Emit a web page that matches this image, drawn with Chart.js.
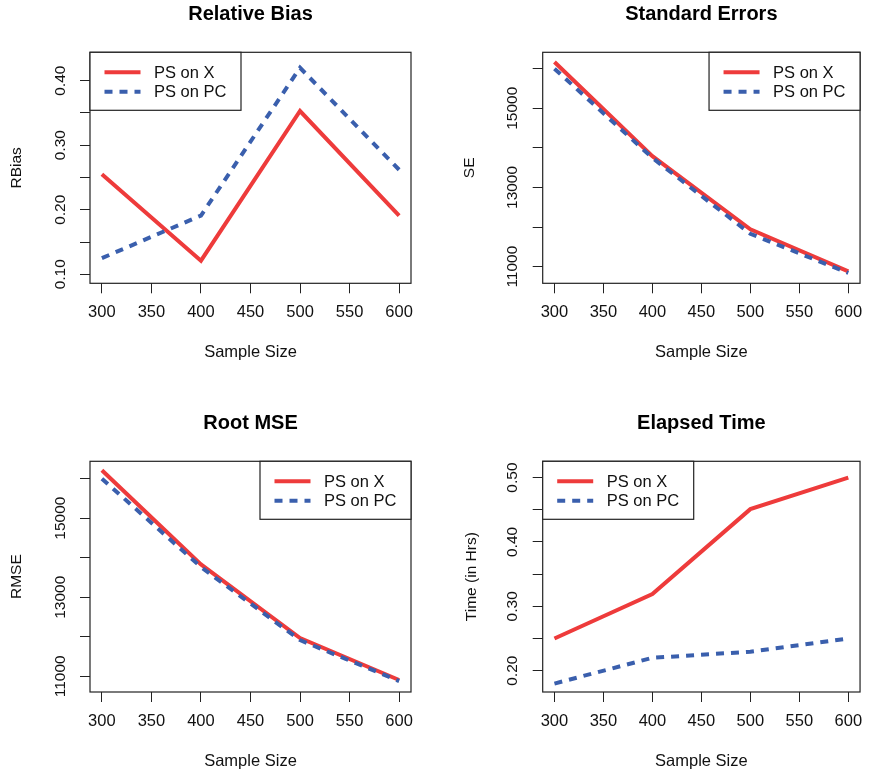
<!DOCTYPE html>
<html>
<head>
<meta charset="utf-8">
<script src="https://cdn.jsdelivr.net/npm/chart.js@4.4.0/dist/chart.umd.min.js"></script>
<style>
  html, body { margin: 0; padding: 0; background: #fff; }
  #wrap { position: relative; width: 872px; height: 773px; overflow: hidden; }
  .panel { position: absolute; }
</style>
</head>
<body>
<div id="wrap">
  <canvas id="c1" class="panel" width="436" height="386" style="left:0;top:0"></canvas>
  <canvas id="c2" class="panel" width="436" height="386" style="left:436px;top:0"></canvas>
  <canvas id="c3" class="panel" width="436" height="387" style="left:0;top:386px"></canvas>
  <canvas id="c4" class="panel" width="436" height="387" style="left:436px;top:386px"></canvas>
</div>
<script>
// sample sizes on the x axis
const sizes = [300, 400, 500, 600];
const seriesNames = ["PS on X", "PS on PC"];

// values
const rbiasX  = [0.255, 0.121, 0.353, 0.191];
const rbiasPC = [0.125, 0.191, 0.420, 0.262];
const seX     = [16168, 13789, 11941, 10882];
const sePC    = [16000, 13747, 11830, 10840];
const rmseX   = [16211, 13831, 11966, 10907];
const rmsePC  = [16000, 13764, 11916, 10880];
const timeX   = [0.250, 0.319, 0.451, 0.500];
const timePC  = [0.180, 0.220, 0.2295, 0.250];

// ticks (R skips every other label on the y axes)
const xTicks = [300, 350, 400, 450, 500, 550, 600];
const rbiasTicks  = [0.10, 0.15, 0.20, 0.25, 0.30, 0.35, 0.40];
const rbiasLabels = ["0.10", "", "0.20", "", "0.30", "", "0.40"];
const seTicks  = [11000, 12000, 13000, 14000, 15000, 16000];
const seLabels = ["11000", "", "13000", "", "15000", ""];
const timeTicks  = [0.20, 0.25, 0.30, 0.35, 0.40, 0.45, 0.50];
const timeLabels = ["0.20", "", "0.30", "", "0.40", "", "0.50"];

const RED = "#EE3B3B";
const BLUE = "#3A5FAD";
const INK = "#222";

Chart.defaults.font.family = "'Liberation Sans', Arial, Helvetica, sans-serif";
Chart.defaults.color = "#111";

// box() around the plot region
const framePlugin = {
  id: "frame",
  afterDatasetsDraw(chart) {
    const { ctx, chartArea: a } = chart;
    ctx.save();
    ctx.strokeStyle = INK;
    ctx.lineWidth = 1.2;
    ctx.strokeRect(a.left, a.top, a.right - a.left, a.bottom - a.top);
    ctx.restore();
  }
};

// R style legend, boxed, sitting in a corner of the plot
const legendBox = {
  id: "legendBox",
  afterDraw(chart, args, opts) {
    const { ctx, chartArea: a } = chart;
    const w = 151, h = 58;
    const x0 = opts.side === "left" ? a.left : a.right - w;
    const y0 = a.top;
    ctx.save();
    ctx.fillStyle = "#fff";
    ctx.fillRect(x0, y0, w, h);
    ctx.strokeStyle = INK;
    ctx.lineWidth = 1.2;
    ctx.strokeRect(x0, y0, w, h);
    ctx.font = "16.5px 'Liberation Sans', Arial, sans-serif";
    ctx.textBaseline = "middle";
    chart.data.datasets.forEach((ds, i) => {
      const y = y0 + 20 + i * 19.5;
      ctx.strokeStyle = ds.borderColor;
      ctx.lineWidth = ds.borderWidth;
      ctx.setLineDash(ds.borderDash || []);
      ctx.beginPath();
      ctx.moveTo(x0 + 14.5, y);
      ctx.lineTo(x0 + 50.5, y);
      ctx.stroke();
      ctx.setLineDash([]);
      ctx.fillStyle = "#111";
      ctx.fillText(ds.label, x0 + 64, y + 1);
    });
    ctx.restore();
  }
};

function makePanel(id, cfg) {
  const pts = (ys) => sizes.map((x, i) => ({ x: x, y: ys[i] }));
  new Chart(document.getElementById(id), {
    type: "line",
    data: {
      datasets: [
        { label: seriesNames[0], data: pts(cfg.a), borderColor: RED, borderWidth: 4,
          pointRadius: 0, fill: false, order: 1 },
        { label: seriesNames[1], data: pts(cfg.b), borderColor: BLUE, borderWidth: 4,
          borderDash: [8, 7], pointRadius: 0, fill: false, order: 0 }
      ]
    },
    options: {
      responsive: false,
      animation: false,
      devicePixelRatio: 1,
      layout: { padding: { left: 0, right: cfg.padR, top: cfg.padT, bottom: cfg.padB } },
      plugins: {
        legend: { display: false },
        tooltip: { enabled: false },
        title: {
          display: true, text: cfg.title, fullSize: false, color: "#000",
          font: { size: 20, weight: "bold" },
          padding: { top: 2.5, bottom: 25.8 }
        },
        legendBox: { side: cfg.legendSide }
      },
      scales: {
        x: {
          type: "linear", min: 288, max: 612,
          afterBuildTicks: (s) => { s.ticks = xTicks.map(v => ({ value: v })); },
          afterFit: (s) => { s.height = cfg.xH; },
          ticks: { font: { size: 16.5 }, padding: 9.5, autoSkip: false, maxRotation: 0,
                   callback: (v) => String(v) },
          grid: { drawOnChartArea: false, tickLength: 10, color: INK },
          border: { display: false },
          title: { display: true, text: "Sample Size", font: { size: 16.5 },
                   padding: { top: 0, bottom: 2 } }
        },
        y: {
          type: "linear", min: cfg.yMin, max: cfg.yMax,
          afterBuildTicks: (s) => { s.ticks = cfg.yTicks.map(v => ({ value: v })); },
          afterFit: (s) => { s.width = cfg.yW; },
          ticks: { font: { size: 15.5 }, autoSkip: false, minRotation: 90, maxRotation: 90,
                   crossAlign: "center", padding: cfg.yPad,
                   callback: (v, i) => cfg.yLabels[i] },
          grid: { drawOnChartArea: false, tickLength: 10, color: INK },
          border: { display: false },
          title: { display: true, text: cfg.yTitle, font: { size: 15.5 },
                   padding: { top: cfg.yTitlePad, bottom: 0 } }
        }
      }
    },
    plugins: [framePlugin, legendBox]
  });
}

makePanel("c1", {
  title: "Relative Bias", a: rbiasX, b: rbiasPC,
  yMin: 0.086, yMax: 0.444, yTicks: rbiasTicks, yLabels: rbiasLabels, yTitle: "RBias",
  yW: 90, padR: 25, padT: 0, padB: 22, xH: 80.7, yPad: 4.2, yTitlePad: 7.4, legendSide: "left"
});
makePanel("c2", {
  title: "Standard Errors", a: seX, b: sePC,
  yMin: 10579, yMax: 16413, yTicks: seTicks, yLabels: seLabels, yTitle: "SE",
  yW: 106.7, padR: 8.7, padT: 0, padB: 22, xH: 80.7, yPad: -1.5, yTitlePad: 24.7, legendSide: "right"
});
makePanel("c3", {
  title: "Root MSE", a: rmseX, b: rmsePC,
  yMin: 10603, yMax: 16439, yTicks: seTicks, yLabels: seLabels, yTitle: "RMSE",
  yW: 90, padR: 25, padT: 23, padB: 0, xH: 81, yPad: -2.2, yTitlePad: 7.4, legendSide: "right"
});
makePanel("c4", {
  title: "Elapsed Time", a: timeX, b: timePC,
  yMin: 0.1669, yMax: 0.5253, yTicks: timeTicks, yLabels: timeLabels, yTitle: "Time (in Hrs)",
  yW: 106.7, padR: 8.7, padT: 23, padB: 0, xH: 81, yPad: 4.9, yTitlePad: 26.2, legendSide: "left"
});
</script>
</body>
</html>
